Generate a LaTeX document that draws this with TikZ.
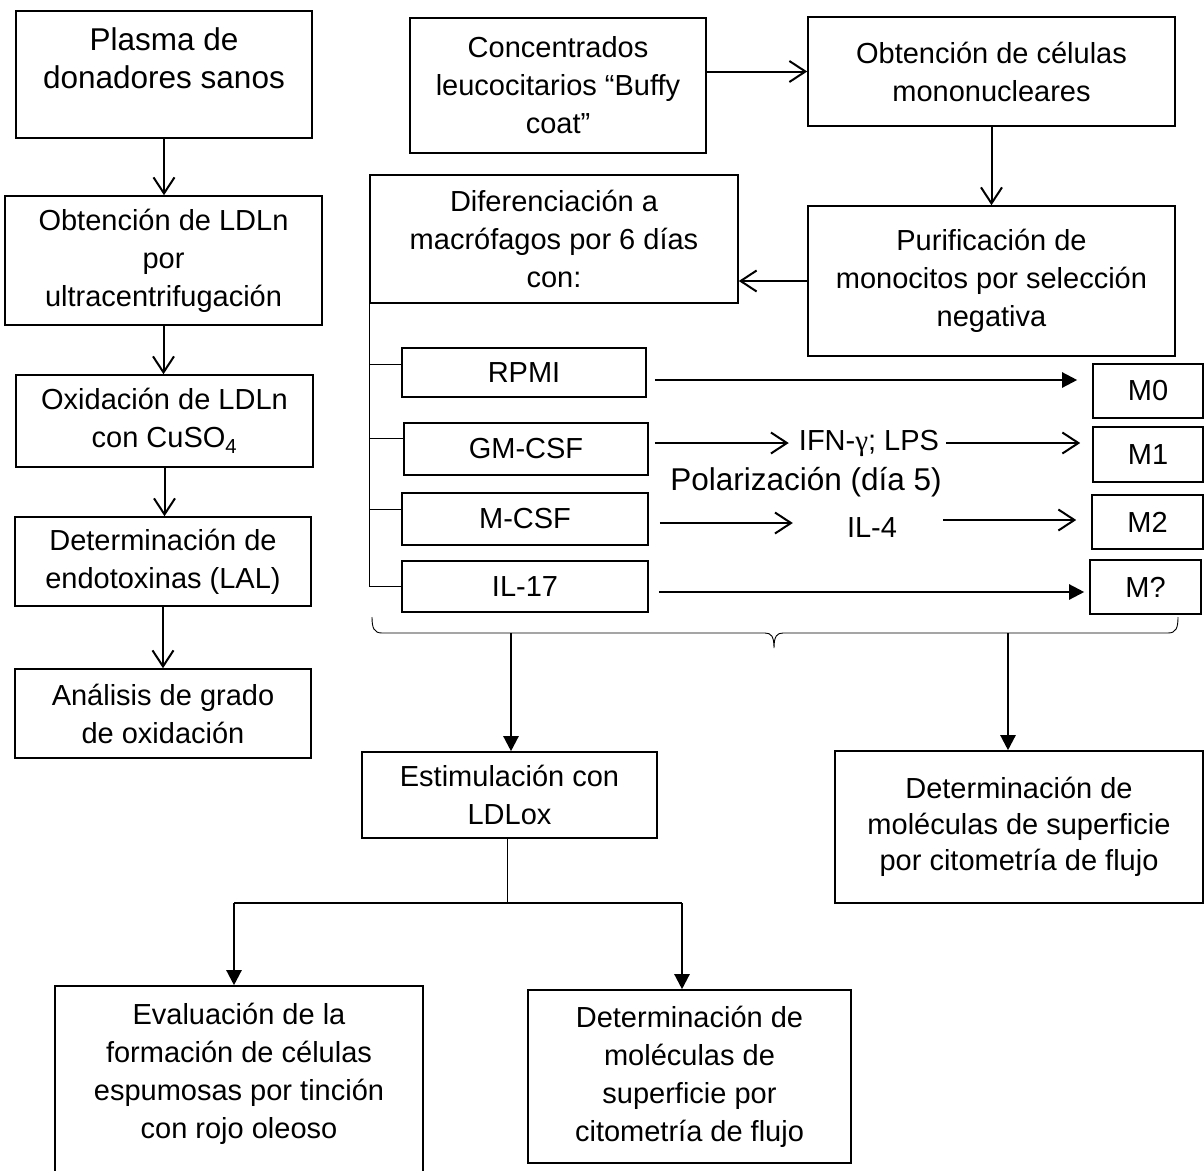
\documentclass[tikz,border=0pt]{standalone}
\usepackage{fontspec}
\setmainfont{Liberation Sans}
\newfontfamily\greekfont{Liberation Serif}
\usetikzlibrary{arrows.meta,calc}
\begin{document}
\begin{tikzpicture}[x=1pt,y=-1pt,
  box/.style={draw, line width=1.6pt, inner sep=0pt, align=center,
    font=\fontsize{29}{38}\selectfont},
  bigtxt/.style={font=\fontsize{31.5}{38}\selectfont},
  lbl/.style={inner sep=0pt, text height=21pt, text depth=0pt,
    font=\fontsize{29}{38}\selectfont},
  openarr/.style={line width=2pt, -{Straight Barb[length=16pt,width=21pt,line width=2pt]}},
  fillarr/.style={line width=2.3pt, -{Triangle[length=15pt,width=15pt]}},
  thinline/.style={line width=1pt}
]
\useasboundingbox (0,0) rectangle (1204,1170);
\clip (0,0) rectangle (1204,1170);

% left column
\node[box, bigtxt, minimum width=296pt, minimum height=127pt] (b1) at (164,74.5) {Plasma de\\donadores sanos\\[-6pt]~};
\node[box, minimum width=317pt, minimum height=129pt] (b2) at (163.5,260.5) {Obtención de LDLn\\por\\ultracentrifugación};
\node[box, minimum width=297pt, minimum height=92pt] (b3) at (164.5,421) {Oxidación de LDLn\\con CuSO\textsubscript{4}};
\node[box, minimum width=296pt, minimum height=89pt] (b4) at (163,561.5) {Determinación de\\endotoxinas (LAL)};
\node[box, minimum width=296pt, minimum height=89pt] (b5) at (163,713.5) {Análisis de grado\\de oxidación};

\draw[openarr] (b1.south) -- (b1.south |- b2.north);
\draw[openarr] (b2.south) -- (b2.south |- b3.north);
\draw[openarr] (b3.south) -- (b3.south |- b4.north);
\draw[openarr] (b4.south) -- (b4.south |- b5.north);

% top right
\node[box, minimum width=296pt, minimum height=135pt] (c1) at (558,85.5) {Concentrados\\leucocitarios “Buffy\\coat”};
\node[box, minimum width=367pt, minimum height=109pt] (c2) at (991.5,71.5) {Obtención de células\\mononucleares};
\node[box, minimum width=367pt, minimum height=150pt] (c3) at (991.5,281) {Purificación de\\monocitos por selección\\negativa};
\node[box, minimum width=368pt, minimum height=128pt] (c4) at (554,239) {Diferenciación a\\macrófagos por 6 días\\con:};

\draw[openarr] (c1.east |- c2.west) -- (c2.west);
\draw[openarr] (c2.south) -- (c3.north);
\draw[openarr] (c3.west) -- (c3.west -| c4.east);

% culture conditions
\node[box, minimum width=244pt, minimum height=49pt] (r1) at (524,372.5) {RPMI};
\node[box, minimum width=244pt, minimum height=52pt] (r2) at (526,449) {GM-CSF};
\node[box, minimum width=246pt, minimum height=52pt] (r3) at (525,519) {M-CSF};
\node[box, minimum width=246pt, minimum height=51pt] (r4) at (525,586.5) {IL-17};

\node[box, minimum width=110pt, minimum height=54pt] (m0) at (1148,391) {M0};
\node[box, minimum width=110pt, minimum height=55pt] (m1) at (1148,454.5) {M1};
\node[box, minimum width=111pt, minimum height=54pt] (m2) at (1147.5,522) {M2};
\node[box, minimum width=111pt, minimum height=54pt] (m3) at (1145.5,587) {M?};

% trunk and ticks
\draw[thinline] (c4.south west) -- (c4.south west |- r4.west) -- (r4.west);
\draw[thinline] ($(c4.south west |- r1.west)+(0,-8.5)$) -- ($(r1.west)+(0,-8.5)$);
\draw[thinline] ($(c4.south west |- r2.west)+(0,-11)$) -- ($(r2.west)+(0,-11)$);
\draw[thinline] ($(c4.south west |- r3.west)+(0,-10)$) -- ($(r3.west)+(0,-10)$);

% labels
\node[lbl] (ifn) at (869,440) {IFN-{\greekfont γ}; LPS};
\node[lbl] (il4) at (872,527) {IL-4};
\node[lbl, bigtxt] (pol) at (806,480) {Polarización (día 5)};

% horizontal arrows
\draw[fillarr] ($(r1.east)+(8,7.5)$) -- ($(r1.east -| m0.west)+(-15,7.5)$);
\draw[openarr] ($(r2.east)+(6,-6)$) -- ($(ifn.west)+(-10,3)$);
\draw[openarr] ($(ifn.east)+(7,3)$) -- ($(m1.west)+(-12,-11.5)$);
\draw[openarr] ($(r3.east)+(11,4)$) -- ($(il4.west)+(-54,-4)$);
\draw[openarr] ($(il4.east)+(46,-7)$) -- ($(m2.west)+(-15,-2)$);
\draw[fillarr] ($(r4.east)+(10,5.5)$) -- ($(r4.east -| m3.west)+(-5,5.5)$);

% brace
\draw[line width=0.9pt] (372,617) .. controls (372,628) and (374,633) .. (382,633)
  -- (765,633) .. controls (771,633) and (774,636) .. (774,648)
  .. controls (774,636) and (777,633) .. (783,633)
  -- (1168,633) .. controls (1176,633) and (1178,628) .. (1178,617);
\coordinate (bL) at (511,633);
\coordinate (bR) at (1008,633);

% lower boxes
\node[box, minimum width=295pt, minimum height=86pt] (e1) at (509.5,795) {Estimulación con\\LDLox};
\node[box, minimum width=368pt, minimum height=152pt, font=\fontsize{29}{36}\selectfont] (d1) at (1019,827) {Determinación de\\moléculas de superficie\\por citometría de flujo};
\node[box, minimum width=368pt, minimum height=199pt] (ev) at (239,1085.5) {Evaluación de la\\formación de células\\espumosas por tinción\\con rojo oleoso\\[-8pt]~};
\node[box, minimum width=323pt, minimum height=173pt] (dm) at (689.5,1076.5) {Determinación de\\moléculas de\\superficie por\\citometría de flujo};

\draw[fillarr] (bL) -- (bL |- e1.north);
\draw[fillarr] (bR) -- (bR |- d1.north);

\coordinate (split) at (507,903);
\coordinate (sL) at (234,903);
\coordinate (sR) at (682,903);
\draw[thinline] (e1.south -| split) -- (split);
\draw[line width=2pt] (sL) -- (sR);
\draw[fillarr] (sL) -- (sL |- ev.north);
\draw[fillarr] (sR) -- (sR |- dm.north);
\end{tikzpicture}
\end{document}
